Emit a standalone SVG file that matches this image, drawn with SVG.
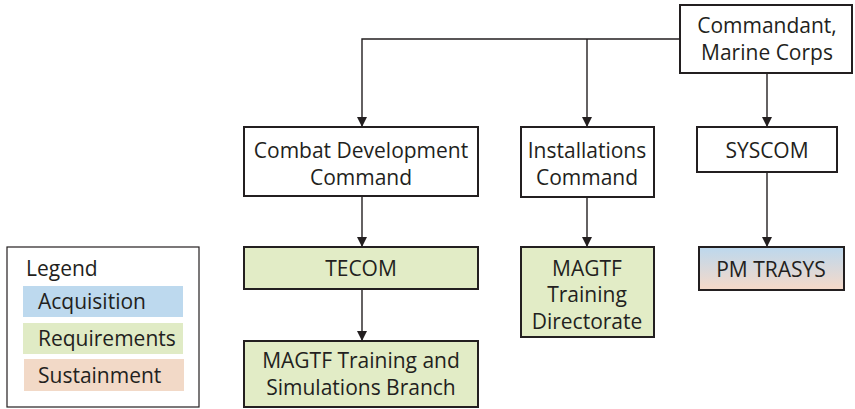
<svg xmlns="http://www.w3.org/2000/svg" width="855" height="409" viewBox="0 0 855 409">
<defs>
<linearGradient id="acqSus" x1="0" y1="0" x2="0" y2="1">
<stop offset="0" stop-color="#bcd8ee"/>
<stop offset="1" stop-color="#f6d9c8"/>
</linearGradient>
<marker id="arr" viewBox="0 0 10 10" refX="10" refY="5" markerWidth="10" markerHeight="10" markerUnits="userSpaceOnUse" orient="auto">
<path d="M0,0 L10,5 L0,10 z" fill="#231f20"/>
</marker>
</defs>
<style>
.box{fill:#fff;stroke:#231f20;stroke-width:2}
.req{fill:#e2ecc6;stroke:#231f20;stroke-width:2}
.t{font-family:"Open Sans","Noto Sans",sans-serif;font-size:21px;fill:#231f20;text-anchor:middle}
.lt{font-family:"Open Sans","Noto Sans",sans-serif;font-size:21px;fill:#231f20}
.c{fill:none;stroke:#231f20;stroke-width:1.4}
</style>
<g id="connectors">
<path class="c" d="M680,39 H362 V127" marker-end="url(#arr)"/>
<path class="c" d="M587,39 V127" marker-end="url(#arr)"/>
<path class="c" d="M767,73 V127" marker-end="url(#arr)"/>
<path class="c" d="M362,196 V247" marker-end="url(#arr)"/>
<path class="c" d="M587,197 V247" marker-end="url(#arr)"/>
<path class="c" d="M767,172 V247" marker-end="url(#arr)"/>
<path class="c" d="M362,289 V341" marker-end="url(#arr)"/>
</g>
<g id="commandant">
<rect class="box" x="680" y="5" width="172" height="68"/>
<text class="t" x="767" y="33">Commandant,</text>
<text class="t" x="767" y="60">Marine Corps</text>
</g>
<g id="cdc">
<rect class="box" x="244" y="127" width="234" height="69"/>
<text class="t" x="361" y="158">Combat Development</text>
<text class="t" x="361" y="185">Command</text>
</g>
<g id="installations">
<rect class="box" x="521" y="127" width="133" height="70"/>
<text class="t" x="587" y="158">Installations</text>
<text class="t" x="587" y="185">Command</text>
</g>
<g id="syscom">
<rect class="box" x="697" y="127" width="140" height="45"/>
<text class="t" x="767" y="158">SYSCOM</text>
</g>
<g id="tecom">
<rect class="req" x="244" y="247" width="234" height="42"/>
<text class="t" x="361" y="276">TECOM</text>
</g>
<g id="mtsb">
<rect class="req" x="244" y="341" width="234" height="66"/>
<text class="t" x="361" y="368">MAGTF Training and</text>
<text class="t" x="361" y="395">Simulations Branch</text>
</g>
<g id="mtd">
<rect class="req" x="521" y="247" width="133" height="90"/>
<text class="t" x="587" y="276">MAGTF</text>
<text class="t" x="587" y="302">Training</text>
<text class="t" x="587" y="329">Directorate</text>
</g>
<g id="pmtrasys">
<rect x="699" y="247" width="145" height="43" fill="url(#acqSus)" stroke="#231f20" stroke-width="2"/>
<text class="t" x="771" y="277">PM TRASYS</text>
</g>
<g id="legend">
<rect x="7" y="247" width="192" height="160" fill="#fff" stroke="#231f20" stroke-width="1.2"/>
<text class="lt" x="26" y="276">Legend</text>
<rect x="23" y="286" width="160" height="31" fill="#bdd9ee"/>
<text class="lt" x="38" y="309">Acquisition</text>
<rect x="23" y="323" width="160" height="31" fill="#e0ebc5"/>
<text class="lt" x="38" y="346">Requirements</text>
<rect x="24" y="359" width="160" height="32" fill="#f2d9c7"/>
<text class="lt" x="38" y="383">Sustainment</text>
</g>
</svg>
